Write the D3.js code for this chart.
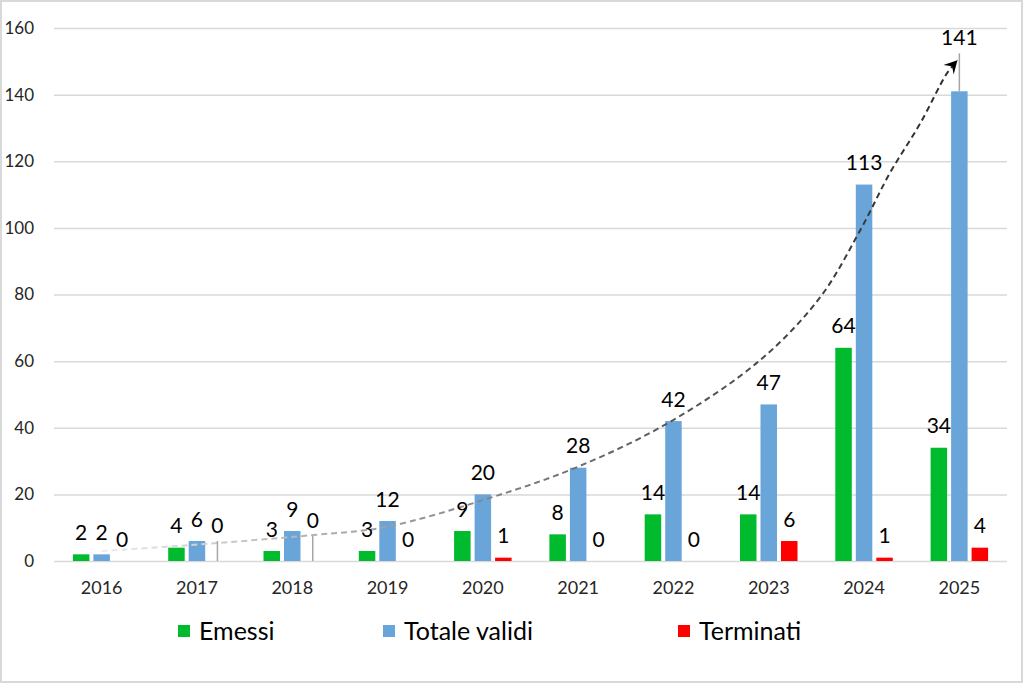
<!DOCTYPE html>
<html>
<head>
<meta charset="utf-8">
<script src="https://cdn.jsdelivr.net/npm/d3@7"></script>
<style>
  html, body { margin: 0; padding: 0; background: #fff; }
  svg { display: block; font-family: Lato, "Open Sans", sans-serif; }
</style>
</head>
<body>
<svg id="chart" width="1024" height="684"></svg>
<script>
// ---- data ----
const years = ["2016","2017","2018","2019","2020","2021","2022","2023","2024","2025"];
const seriesNames = ["Emessi","Totale validi","Terminati"];
const emessi      = [2, 4, 3, 3, 9, 8, 14, 14, 64, 34];
const totaleValidi= [2, 6, 9, 12, 20, 28, 42, 47, 113, 141];
const terminati   = [0, 0, 0, 0, 1, 0, 0, 6, 1, 4];
const yTicks = [0, 20, 40, 60, 80, 100, 120, 140, 160];
// hand-drawn trend arrow, in (category index, value) units
const trendIdx = [0, 0.93, 2.22, 2.98, 4.07, 4.99, 5.96, 6.91, 7.54, 7.96, 8.27, 8.59, 8.87, 8.98];
const trendVal = [3, 4.8, 7.8, 10.2, 18.9, 28.2, 41.7, 60.3, 79.2, 99.3, 116.4, 131.4, 146.4, 150.3];

// ---- styling ----
const colors = {"Emessi":"#00bb2d","Totale validi":"#6aa5d9","Terminati":"#ff0000"};
// labels moved by hand in the original (pixels lifted, with leader line)
const labelLift = {"Terminati|2017":14, "Terminati|2018":19, "Totale validi|2025":32};

const svg = d3.select("#chart");
const W = 1024, H = 684;
const pLeft = 54, pRight = 1007, pTop = 28, pBottom = 561;

svg.append("rect").attr("x",1).attr("y",1).attr("width",W-3).attr("height",H-3)
  .attr("fill","#fff").attr("stroke","#d9d9d9").attr("stroke-width",2);

const x = d3.scaleBand().domain(years).range([pLeft, pRight]).padding(0);
const xs = d3.scaleBand().domain(seriesNames).range([-28.75, 28.75]).paddingInner(0.195).paddingOuter(0);
const y = d3.scaleLinear().domain([0,160]).range([pBottom, pTop]);
const xIdx = d3.scaleLinear().domain([0, years.length-1])
  .range([x(years[0]) + x.bandwidth()/2, x(years[years.length-1]) + x.bandwidth()/2]);

// gridlines
const yAxis = d3.axisLeft(y).tickValues(yTicks).tickSize(-(pRight-pLeft)).tickPadding(20);
const gy = svg.append("g").attr("transform",`translate(${pLeft},0)`).call(yAxis);
gy.select(".domain").remove();
gy.selectAll(".tick line").attr("stroke","#d9d9d9").attr("stroke-width",1.5);
gy.selectAll(".tick text").attr("font-size",17).attr("fill","#262626")
  .attr("font-family","Lato, sans-serif").attr("x",-20);

// x axis labels
const xAxis = d3.axisBottom(x).tickSize(0).tickPadding(20);
const gx = svg.append("g").attr("transform",`translate(0,${pBottom})`).call(xAxis);
gx.select(".domain").remove();
gx.selectAll(".tick text").attr("font-size",18).attr("fill","#262626")
  .attr("font-family","Lato, sans-serif");

// bars
const seriesData = [emessi, totaleValidi, terminati];
const rows = [];
seriesNames.forEach((s, si) => {
  years.forEach((yr, i) => rows.push({s, yr, v: seriesData[si][i]}));
});
const cx = d => x(d.yr) + x.bandwidth()/2 + xs(d.s);

svg.append("g").selectAll("rect").data(rows).join("rect")
  .attr("x", cx)
  .attr("y", d => y(d.v))
  .attr("width", xs.bandwidth())
  .attr("height", d => pBottom - y(d.v))
  .attr("fill", d => colors[d.s]);

// trend arrow
const defs = svg.append("defs");
const grad = defs.append("linearGradient").attr("id","tg")
  .attr("gradientUnits","userSpaceOnUse")
  .attr("x1", xIdx(0)).attr("x2", xIdx(9)).attr("y1",0).attr("y2",0);
grad.append("stop").attr("offset","0%").attr("stop-color","#ececec");
grad.append("stop").attr("offset","35%").attr("stop-color","#9a9a9a");
grad.append("stop").attr("offset","65%").attr("stop-color","#5a5a5a");
grad.append("stop").attr("offset","100%").attr("stop-color","#2a2a2a");
defs.append("marker").attr("id","arr").attr("viewBox","-14 -8 16 16")
  .attr("refX",0).attr("refY",0).attr("markerWidth",16).attr("markerHeight",16)
  .attr("markerUnits","userSpaceOnUse").attr("orient","auto")
  .append("path").attr("d","M0,0 L-13,-7 L-8,0 L-13,7 Z").attr("fill","#000");

const line = d3.line().x(d => xIdx(d[0])).y(d => y(d[1])).curve(d3.curveCatmullRom.alpha(0.5));
svg.append("path").datum(trendIdx.map((t,i)=>[t, trendVal[i]]))
  .attr("d", line).attr("fill","none").attr("stroke","url(#tg)")
  .attr("stroke-width",2).attr("stroke-dasharray","6,4")
  .attr("marker-end","url(#arr)");

// data labels
const lbl = svg.append("g");
rows.forEach(d => {
  const lift = labelLift[d.s + "|" + d.yr] || 0;
  const xc = cx(d) + xs.bandwidth()/2;
  const yc = y(d.v) - 22 - lift;
  if (lift) {
    lbl.append("line").attr("x1", xc).attr("x2", xc)
      .attr("y1", yc + 16).attr("y2", y(d.v))
      .attr("stroke","#a6a6a6").attr("stroke-width",1.5);
  }
  lbl.append("text").attr("x", xc).attr("y", yc).attr("dy","0.36em")
    .attr("text-anchor","middle").attr("font-size",21).attr("fill","#000")
    .text(d.v);
});

// legend
const legendX = [178, 383, 678];
const lg = svg.append("g");
seriesNames.forEach((s,i) => {
  const g = lg.append("g").attr("transform",`translate(${legendX[i]},631)`);
  g.append("rect").attr("x",0).attr("y",-6).attr("width",12).attr("height",12).attr("fill",colors[s]);
  g.append("text").attr("x",21).attr("y",0).attr("dy","0.36em")
    .attr("font-size",25).attr("fill","#000").text(s);
});
</script>
</body>
</html>
